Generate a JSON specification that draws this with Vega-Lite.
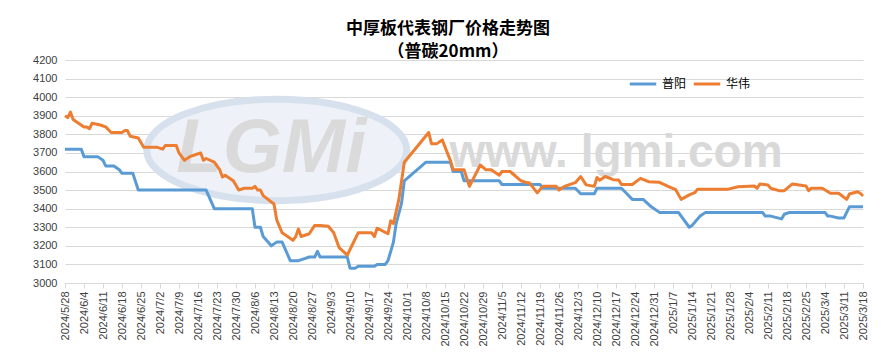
{
  "$schema": "https://vega.github.io/schema/vega-lite/v6.json",
  "width": 798,
  "height": 223,
  "autosize": "none",
  "padding": {"left": 65, "top": 60, "right": 24, "bottom": 75},
  "background": "white",
  "title": {
    "text": "中厚板代表钢厂价格走势图",
    "subtitle": "（普碳20mm）",
    "font": "Noto Sans CJK SC",
    "subtitleFont": "Noto Sans CJK SC",
    "fontSize": 17,
    "subtitleFontSize": 17,
    "fontWeight": "bold",
    "subtitleFontWeight": "bold",
    "color": "#000000",
    "subtitleColor": "#000000",
    "anchor": "middle",
    "dx": -16,
    "offset": -7,
    "subtitlePadding": 6
  },
  "config": {
    "view": {"stroke": null},
    "font": "Liberation Sans"
  },
  "datasets": {
    "prices": [
      {"d": "2024-05-28", "s": "普阳", "v": 3720},
      {"d": "2024-06-03", "s": "普阳", "v": 3720},
      {"d": "2024-06-04", "s": "普阳", "v": 3680},
      {"d": "2024-06-09", "s": "普阳", "v": 3680},
      {"d": "2024-06-11", "s": "普阳", "v": 3660},
      {"d": "2024-06-12", "s": "普阳", "v": 3630},
      {"d": "2024-06-15", "s": "普阳", "v": 3630},
      {"d": "2024-06-17", "s": "普阳", "v": 3610},
      {"d": "2024-06-18", "s": "普阳", "v": 3590},
      {"d": "2024-06-22", "s": "普阳", "v": 3590},
      {"d": "2024-06-24", "s": "普阳", "v": 3500},
      {"d": "2024-07-19", "s": "普阳", "v": 3500},
      {"d": "2024-07-22", "s": "普阳", "v": 3400},
      {"d": "2024-08-05", "s": "普阳", "v": 3400},
      {"d": "2024-08-06", "s": "普阳", "v": 3300},
      {"d": "2024-08-08", "s": "普阳", "v": 3300},
      {"d": "2024-08-09", "s": "普阳", "v": 3250},
      {"d": "2024-08-12", "s": "普阳", "v": 3200},
      {"d": "2024-08-14", "s": "普阳", "v": 3220},
      {"d": "2024-08-16", "s": "普阳", "v": 3220},
      {"d": "2024-08-19", "s": "普阳", "v": 3120},
      {"d": "2024-08-22", "s": "普阳", "v": 3120},
      {"d": "2024-08-24", "s": "普阳", "v": 3130},
      {"d": "2024-08-26", "s": "普阳", "v": 3140},
      {"d": "2024-08-28", "s": "普阳", "v": 3140},
      {"d": "2024-08-29", "s": "普阳", "v": 3170},
      {"d": "2024-08-30", "s": "普阳", "v": 3140},
      {"d": "2024-09-09", "s": "普阳", "v": 3140},
      {"d": "2024-09-10", "s": "普阳", "v": 3080},
      {"d": "2024-09-12", "s": "普阳", "v": 3080},
      {"d": "2024-09-13", "s": "普阳", "v": 3090},
      {"d": "2024-09-19", "s": "普阳", "v": 3090},
      {"d": "2024-09-20", "s": "普阳", "v": 3100},
      {"d": "2024-09-23", "s": "普阳", "v": 3100},
      {"d": "2024-09-24", "s": "普阳", "v": 3120},
      {"d": "2024-09-25", "s": "普阳", "v": 3170},
      {"d": "2024-09-26", "s": "普阳", "v": 3220},
      {"d": "2024-09-27", "s": "普阳", "v": 3320},
      {"d": "2024-09-29", "s": "普阳", "v": 3430},
      {"d": "2024-09-30", "s": "普阳", "v": 3550},
      {"d": "2024-10-08", "s": "普阳", "v": 3650},
      {"d": "2024-10-17", "s": "普阳", "v": 3650},
      {"d": "2024-10-18", "s": "普阳", "v": 3600},
      {"d": "2024-10-21", "s": "普阳", "v": 3600},
      {"d": "2024-10-22", "s": "普阳", "v": 3550},
      {"d": "2024-11-04", "s": "普阳", "v": 3550},
      {"d": "2024-11-05", "s": "普阳", "v": 3530},
      {"d": "2024-11-19", "s": "普阳", "v": 3530},
      {"d": "2024-11-20", "s": "普阳", "v": 3510},
      {"d": "2024-12-02", "s": "普阳", "v": 3510},
      {"d": "2024-12-04", "s": "普阳", "v": 3480},
      {"d": "2024-12-09", "s": "普阳", "v": 3480},
      {"d": "2024-12-10", "s": "普阳", "v": 3510},
      {"d": "2024-12-19", "s": "普阳", "v": 3510},
      {"d": "2024-12-21", "s": "普阳", "v": 3480},
      {"d": "2024-12-23", "s": "普阳", "v": 3450},
      {"d": "2024-12-27", "s": "普阳", "v": 3450},
      {"d": "2024-12-30", "s": "普阳", "v": 3410},
      {"d": "2025-01-02", "s": "普阳", "v": 3380},
      {"d": "2025-01-09", "s": "普阳", "v": 3380},
      {"d": "2025-01-13", "s": "普阳", "v": 3300},
      {"d": "2025-01-14", "s": "普阳", "v": 3310},
      {"d": "2025-01-17", "s": "普阳", "v": 3360},
      {"d": "2025-01-19", "s": "普阳", "v": 3380},
      {"d": "2025-02-09", "s": "普阳", "v": 3380},
      {"d": "2025-02-10", "s": "普阳", "v": 3360},
      {"d": "2025-02-12", "s": "普阳", "v": 3360},
      {"d": "2025-02-16", "s": "普阳", "v": 3345},
      {"d": "2025-02-17", "s": "普阳", "v": 3370},
      {"d": "2025-02-19", "s": "普阳", "v": 3380},
      {"d": "2025-03-04", "s": "普阳", "v": 3380},
      {"d": "2025-03-05", "s": "普阳", "v": 3360},
      {"d": "2025-03-06", "s": "普阳", "v": 3360},
      {"d": "2025-03-09", "s": "普阳", "v": 3350},
      {"d": "2025-03-11", "s": "普阳", "v": 3350},
      {"d": "2025-03-13", "s": "普阳", "v": 3410},
      {"d": "2025-03-18", "s": "普阳", "v": 3410},
      {"d": "2024-05-28", "s": "华伟", "v": 3900},
      {"d": "2024-05-29", "s": "华伟", "v": 3890},
      {"d": "2024-05-30", "s": "华伟", "v": 3920},
      {"d": "2024-05-31", "s": "华伟", "v": 3880},
      {"d": "2024-06-02", "s": "华伟", "v": 3860},
      {"d": "2024-06-04", "s": "华伟", "v": 3840},
      {"d": "2024-06-05", "s": "华伟", "v": 3840},
      {"d": "2024-06-06", "s": "华伟", "v": 3830},
      {"d": "2024-06-07", "s": "华伟", "v": 3860},
      {"d": "2024-06-10", "s": "华伟", "v": 3850},
      {"d": "2024-06-12", "s": "华伟", "v": 3840},
      {"d": "2024-06-14", "s": "华伟", "v": 3810},
      {"d": "2024-06-18", "s": "华伟", "v": 3810},
      {"d": "2024-06-19", "s": "华伟", "v": 3820},
      {"d": "2024-06-20", "s": "华伟", "v": 3820},
      {"d": "2024-06-21", "s": "华伟", "v": 3790},
      {"d": "2024-06-24", "s": "华伟", "v": 3780},
      {"d": "2024-06-26", "s": "华伟", "v": 3730},
      {"d": "2024-07-01", "s": "华伟", "v": 3730},
      {"d": "2024-07-03", "s": "华伟", "v": 3720},
      {"d": "2024-07-04", "s": "华伟", "v": 3740},
      {"d": "2024-07-08", "s": "华伟", "v": 3740},
      {"d": "2024-07-09", "s": "华伟", "v": 3700},
      {"d": "2024-07-11", "s": "华伟", "v": 3660},
      {"d": "2024-07-13", "s": "华伟", "v": 3680},
      {"d": "2024-07-15", "s": "华伟", "v": 3690},
      {"d": "2024-07-17", "s": "华伟", "v": 3700},
      {"d": "2024-07-18", "s": "华伟", "v": 3660},
      {"d": "2024-07-19", "s": "华伟", "v": 3670},
      {"d": "2024-07-22", "s": "华伟", "v": 3650},
      {"d": "2024-07-24", "s": "华伟", "v": 3610},
      {"d": "2024-07-25", "s": "华伟", "v": 3570},
      {"d": "2024-07-26", "s": "华伟", "v": 3580},
      {"d": "2024-07-29", "s": "华伟", "v": 3550},
      {"d": "2024-07-31", "s": "华伟", "v": 3500},
      {"d": "2024-08-02", "s": "华伟", "v": 3510},
      {"d": "2024-08-05", "s": "华伟", "v": 3510},
      {"d": "2024-08-06", "s": "华伟", "v": 3520},
      {"d": "2024-08-07", "s": "华伟", "v": 3500},
      {"d": "2024-08-08", "s": "华伟", "v": 3500},
      {"d": "2024-08-09", "s": "华伟", "v": 3470},
      {"d": "2024-08-13", "s": "华伟", "v": 3425},
      {"d": "2024-08-14", "s": "华伟", "v": 3340},
      {"d": "2024-08-16", "s": "华伟", "v": 3270},
      {"d": "2024-08-20", "s": "华伟", "v": 3230},
      {"d": "2024-08-21", "s": "华伟", "v": 3250},
      {"d": "2024-08-22", "s": "华伟", "v": 3290},
      {"d": "2024-08-23", "s": "华伟", "v": 3250},
      {"d": "2024-08-26", "s": "华伟", "v": 3265},
      {"d": "2024-08-28", "s": "华伟", "v": 3310},
      {"d": "2024-08-30", "s": "华伟", "v": 3310},
      {"d": "2024-09-02", "s": "华伟", "v": 3305},
      {"d": "2024-09-04", "s": "华伟", "v": 3270},
      {"d": "2024-09-06", "s": "华伟", "v": 3190},
      {"d": "2024-09-09", "s": "华伟", "v": 3150},
      {"d": "2024-09-11", "s": "华伟", "v": 3210},
      {"d": "2024-09-13", "s": "华伟", "v": 3270},
      {"d": "2024-09-18", "s": "华伟", "v": 3270},
      {"d": "2024-09-19", "s": "华伟", "v": 3250},
      {"d": "2024-09-20", "s": "华伟", "v": 3295},
      {"d": "2024-09-24", "s": "华伟", "v": 3265},
      {"d": "2024-09-25", "s": "华伟", "v": 3335},
      {"d": "2024-09-26", "s": "华伟", "v": 3320},
      {"d": "2024-09-28", "s": "华伟", "v": 3450},
      {"d": "2024-09-30", "s": "华伟", "v": 3650},
      {"d": "2024-10-09", "s": "华伟", "v": 3810},
      {"d": "2024-10-10", "s": "华伟", "v": 3750},
      {"d": "2024-10-12", "s": "华伟", "v": 3750},
      {"d": "2024-10-14", "s": "华伟", "v": 3770},
      {"d": "2024-10-16", "s": "华伟", "v": 3695},
      {"d": "2024-10-17", "s": "华伟", "v": 3660},
      {"d": "2024-10-18", "s": "华伟", "v": 3610},
      {"d": "2024-10-22", "s": "华伟", "v": 3610},
      {"d": "2024-10-24", "s": "华伟", "v": 3520},
      {"d": "2024-10-28", "s": "华伟", "v": 3635},
      {"d": "2024-10-30", "s": "华伟", "v": 3610},
      {"d": "2024-11-01", "s": "华伟", "v": 3610},
      {"d": "2024-11-04", "s": "华伟", "v": 3580},
      {"d": "2024-11-05", "s": "华伟", "v": 3600},
      {"d": "2024-11-08", "s": "华伟", "v": 3600},
      {"d": "2024-11-12", "s": "华伟", "v": 3550},
      {"d": "2024-11-14", "s": "华伟", "v": 3540},
      {"d": "2024-11-15", "s": "华伟", "v": 3540},
      {"d": "2024-11-18", "s": "华伟", "v": 3485},
      {"d": "2024-11-20", "s": "华伟", "v": 3520},
      {"d": "2024-11-25", "s": "华伟", "v": 3520},
      {"d": "2024-11-26", "s": "华伟", "v": 3500},
      {"d": "2024-11-28", "s": "华伟", "v": 3520},
      {"d": "2024-12-02", "s": "华伟", "v": 3540},
      {"d": "2024-12-04", "s": "华伟", "v": 3573},
      {"d": "2024-12-06", "s": "华伟", "v": 3528},
      {"d": "2024-12-09", "s": "华伟", "v": 3520},
      {"d": "2024-12-10", "s": "华伟", "v": 3568},
      {"d": "2024-12-11", "s": "华伟", "v": 3553},
      {"d": "2024-12-13", "s": "华伟", "v": 3573},
      {"d": "2024-12-16", "s": "华伟", "v": 3556},
      {"d": "2024-12-18", "s": "华伟", "v": 3554},
      {"d": "2024-12-19", "s": "华伟", "v": 3530},
      {"d": "2024-12-23", "s": "华伟", "v": 3530},
      {"d": "2024-12-26", "s": "华伟", "v": 3563},
      {"d": "2024-12-29", "s": "华伟", "v": 3545},
      {"d": "2025-01-02", "s": "华伟", "v": 3542},
      {"d": "2025-01-06", "s": "华伟", "v": 3515},
      {"d": "2025-01-08", "s": "华伟", "v": 3502},
      {"d": "2025-01-10", "s": "华伟", "v": 3450},
      {"d": "2025-01-13", "s": "华伟", "v": 3474},
      {"d": "2025-01-15", "s": "华伟", "v": 3486},
      {"d": "2025-01-16", "s": "华伟", "v": 3504},
      {"d": "2025-01-27", "s": "华伟", "v": 3504},
      {"d": "2025-01-31", "s": "华伟", "v": 3518},
      {"d": "2025-02-06", "s": "华伟", "v": 3522},
      {"d": "2025-02-07", "s": "华伟", "v": 3510},
      {"d": "2025-02-08", "s": "华伟", "v": 3533},
      {"d": "2025-02-11", "s": "华伟", "v": 3527},
      {"d": "2025-02-12", "s": "华伟", "v": 3510},
      {"d": "2025-02-15", "s": "华伟", "v": 3497},
      {"d": "2025-02-17", "s": "华伟", "v": 3497},
      {"d": "2025-02-20", "s": "华伟", "v": 3533},
      {"d": "2025-02-25", "s": "华伟", "v": 3522},
      {"d": "2025-02-26", "s": "华伟", "v": 3497},
      {"d": "2025-02-27", "s": "华伟", "v": 3510},
      {"d": "2025-03-03", "s": "华伟", "v": 3510},
      {"d": "2025-03-06", "s": "华伟", "v": 3483},
      {"d": "2025-03-09", "s": "华伟", "v": 3483},
      {"d": "2025-03-12", "s": "华伟", "v": 3450},
      {"d": "2025-03-13", "s": "华伟", "v": 3479},
      {"d": "2025-03-16", "s": "华伟", "v": 3491},
      {"d": "2025-03-17", "s": "华伟", "v": 3483},
      {"d": "2025-03-18", "s": "华伟", "v": 3468}
    ]
  },
  "encoding": {
    "x": {
      "field": "d",
      "type": "temporal",
      "title": null,
      "scale": {
        "type": "utc",
        "domain": [{"year": 2024, "month": 5, "date": 28, "utc": true}, {"year": 2025, "month": 3, "date": 18, "utc": true}]
      },
      "axis": {
        "values": [
          {"year": 2024, "month": 5, "date": 28, "utc": true},
          {"year": 2024, "month": 6, "date": 4, "utc": true},
          {"year": 2024, "month": 6, "date": 11, "utc": true},
          {"year": 2024, "month": 6, "date": 18, "utc": true},
          {"year": 2024, "month": 6, "date": 25, "utc": true},
          {"year": 2024, "month": 7, "date": 2, "utc": true},
          {"year": 2024, "month": 7, "date": 9, "utc": true},
          {"year": 2024, "month": 7, "date": 16, "utc": true},
          {"year": 2024, "month": 7, "date": 23, "utc": true},
          {"year": 2024, "month": 7, "date": 30, "utc": true},
          {"year": 2024, "month": 8, "date": 6, "utc": true},
          {"year": 2024, "month": 8, "date": 13, "utc": true},
          {"year": 2024, "month": 8, "date": 20, "utc": true},
          {"year": 2024, "month": 8, "date": 27, "utc": true},
          {"year": 2024, "month": 9, "date": 3, "utc": true},
          {"year": 2024, "month": 9, "date": 10, "utc": true},
          {"year": 2024, "month": 9, "date": 17, "utc": true},
          {"year": 2024, "month": 9, "date": 24, "utc": true},
          {"year": 2024, "month": 10, "date": 1, "utc": true},
          {"year": 2024, "month": 10, "date": 8, "utc": true},
          {"year": 2024, "month": 10, "date": 15, "utc": true},
          {"year": 2024, "month": 10, "date": 22, "utc": true},
          {"year": 2024, "month": 10, "date": 29, "utc": true},
          {"year": 2024, "month": 11, "date": 5, "utc": true},
          {"year": 2024, "month": 11, "date": 12, "utc": true},
          {"year": 2024, "month": 11, "date": 19, "utc": true},
          {"year": 2024, "month": 11, "date": 26, "utc": true},
          {"year": 2024, "month": 12, "date": 3, "utc": true},
          {"year": 2024, "month": 12, "date": 10, "utc": true},
          {"year": 2024, "month": 12, "date": 17, "utc": true},
          {"year": 2024, "month": 12, "date": 24, "utc": true},
          {"year": 2024, "month": 12, "date": 31, "utc": true},
          {"year": 2025, "month": 1, "date": 7, "utc": true},
          {"year": 2025, "month": 1, "date": 14, "utc": true},
          {"year": 2025, "month": 1, "date": 21, "utc": true},
          {"year": 2025, "month": 1, "date": 28, "utc": true},
          {"year": 2025, "month": 2, "date": 4, "utc": true},
          {"year": 2025, "month": 2, "date": 11, "utc": true},
          {"year": 2025, "month": 2, "date": 18, "utc": true},
          {"year": 2025, "month": 2, "date": 25, "utc": true},
          {"year": 2025, "month": 3, "date": 4, "utc": true},
          {"year": 2025, "month": 3, "date": 11, "utc": true},
          {"year": 2025, "month": 3, "date": 18, "utc": true}
        ],
        "format": "%Y/%-m/%-d",
        "labelAngle": 270,
        "labelFontSize": 11,
        "labelColor": "#404040",
        "labelOverlap": false,
        "labelBound": false,
        "labelFlush": false,
        "labelPadding": 3,
        "grid": false,
        "domainColor": "#d9d9d9",
        "tickColor": "#d9d9d9",
        "tickSize": 5
      }
    },
    "y": {
      "field": "v",
      "type": "quantitative",
      "title": null,
      "scale": {"domain": [3000, 4200], "nice": false, "zero": false},
      "axis": {
        "values": [3000, 3100, 3200, 3300, 3400, 3500, 3600, 3700, 3800, 3900, 4000, 4100, 4200],
        "format": "d",
        "domain": false,
        "ticks": false,
        "grid": true,
        "labelFontSize": 11,
        "labelColor": "#404040",
        "labelPadding": 8,
        "labelOverlap": false,
        "gridColor": "#d9d9d9",
        "gridWidth": 1
      }
    }
  },
  "layer": [
    {
      "data": {"values": [{"d": "2024-08-14", "v": 3716}]},
      "mark": {"type": "point", "shape": "M -1 0 A 1 0.39 0 1 1 1 0 A 1 0.39 0 1 1 -1 0 Z", "size": 67600, "filled": true, "fill": "#eef2f8", "stroke": "#d7e1ee", "strokeWidth": 7, "opacity": 1}
    },
    {
      "data": {"values": [{"d": "2024-08-12", "v": 3597, "label": "LGMi"}]},
      "mark": {"type": "text", "font": "Liberation Sans", "fontSize": 76, "fontWeight": "bold", "fontStyle": "italic", "color": "#dadada", "align": "center", "baseline": "alphabetic"},
      "encoding": {"text": {"field": "label"}}
    },
    {
      "data": {"values": [{"d": "2024-12-17", "v": 3624, "label": "www. lgmi.com"}]},
      "mark": {"type": "text", "font": "Liberation Sans", "fontSize": 46, "fontWeight": "bold", "color": "#d9d9d9", "align": "center", "baseline": "alphabetic"},
      "encoding": {"text": {"field": "label"}}
    },
    {
      "data": {"name": "prices"},
      "mark": {"type": "line", "strokeWidth": 3, "strokeJoin": "round", "interpolate": "linear"},
      "encoding": {
        "color": {
          "field": "s",
          "type": "nominal",
          "scale": {"domain": ["普阳", "华伟"], "range": ["#5B9BD5", "#ED7D31"]},
          "legend": {
            "title": null,
            "orient": "none",
            "legendX": 563,
            "legendY": 9,
            "direction": "horizontal",
            "symbolType": "stroke",
            "symbolStrokeWidth": 3,
            "symbolSize": 700,
            "labelFont": "Noto Sans CJK SC",
            "labelFontSize": 12,
            "labelColor": "#000000",
            "labelOffset": 4,
            "columnPadding": 0
          }
        }
      }
    }
  ]
}
